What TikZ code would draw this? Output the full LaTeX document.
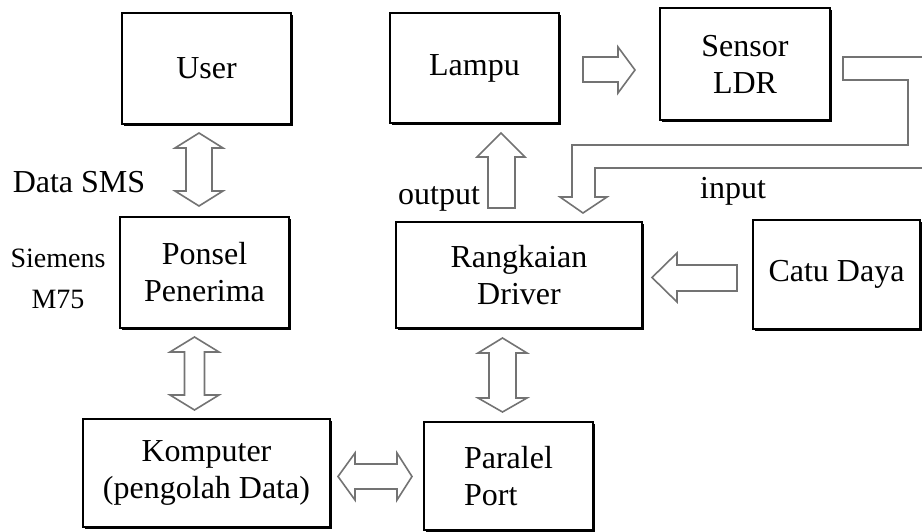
\documentclass[tikz,border=0pt]{standalone}
\usepackage{fontspec}
\setmainfont{Liberation Serif}
\usepackage{tikz}
\usetikzlibrary{shadows}
\definecolor{arrowgray}{RGB}{115,115,115}

\begin{document}
\begin{tikzpicture}[x=1pt, y=-1pt,
        box/.style={draw, line width=1.2pt, fill=white, align=center, inner sep=0pt,
            font=\fontsize{32}{37}\selectfont,
            drop shadow={shadow xshift=2pt, shadow yshift=-2pt, opacity=1, fill=black}},
        blk/.style={draw=arrowgray, line width=1.6pt, fill=white, line join=miter},
        lbl/.style={anchor=base, inner sep=0pt, font=\fontsize{32}{37}\selectfont}]
        \useasboundingbox (0,0) rectangle (922,532);

        \node[box, minimum width=169pt, minimum height=111pt] (user) at (206.5,68.5) {User};
        \node[box, minimum width=169pt, minimum height=110pt] (lampu) at (474.5,68) {Lampu};
        \node[box, minimum width=170pt, minimum height=112pt] (sensor) at (745,64) {Sensor\\LDR};
        \node[box, minimum width=169pt, minimum height=111pt] (ponsel) at (204.5,272.5) {Ponsel\\Penerima};
        \node[box, minimum width=246pt, minimum height=106pt] (driver) at (519,275) {Rangkaian\\Driver};
        \node[box, minimum width=167pt, minimum height=109pt] (catu) at (836.5,274.5) {Catu Daya};
        \node[box, minimum width=247pt, minimum height=108pt] (komputer) at (206.5,473) {Komputer\\(pengolah Data)};
        \node[box, minimum width=169pt, minimum height=108pt, align=left] (paralel) at (508.5,476) {Paralel\\Port};

        \coordinate (sms) at (199,133);
        \coordinate (usb) at (194.5,337);
        \coordinate (lpt) at (338,476.5);
        \coordinate (drv) at (502.5,338);
        \coordinate (out) at (501,133);
        \coordinate (lgt) at (635,70);
        \coordinate (pwr) at (652,277.5);

        \draw[blk] (sms) -- ++(24,15) -- ++(-11,0) -- ++(0,43) -- ++(11,0) -- ++(-24,15)
            -- ++(-24,-15) -- ++(11,0) -- ++(0,-43) -- ++(-11,0) -- cycle;
        \draw[blk] (usb) -- ++(24.5,15) -- ++(-14.5,0) -- ++(0,43) -- ++(14.5,0) -- ++(-24.5,15)
            -- ++(-24.5,-15) -- ++(14.5,0) -- ++(0,-43) -- ++(-14.5,0) -- cycle;
        \draw[blk] (drv) -- ++(24.5,15) -- ++(-11,0) -- ++(0,45) -- ++(11,0) -- ++(-24.5,14)
            -- ++(-24.5,-14) -- ++(11,0) -- ++(0,-45) -- ++(-11,0) -- cycle;
        \draw[blk] (lpt) -- ++(17,-23.5) -- ++(0,11) -- ++(42,0) -- ++(0,-11) -- ++(15,23.5)
            -- ++(-15,23.5) -- ++(0,-11) -- ++(-42,0) -- ++(0,11) -- cycle;
        \draw[blk] (out) -- ++(24,24) -- ++(-10,0) -- ++(0,51) -- ++(-27,0) -- ++(0,-51)
            -- ++(-11,0) -- cycle;
        \draw[blk] (lgt) -- ++(-17,23) -- ++(0,-11) -- ++(-35,0) -- ++(0,-25) -- ++(35,0)
            -- ++(0,-10) -- cycle;
        \draw[blk] (pwr) -- ++(25,-24.5) -- ++(0,12) -- ++(60,0) -- ++(0,26) -- ++(-60,0)
            -- ++(0,11) -- cycle;

        \draw[blk, fill=none] (922,57) -- (843,57) -- (843,80) -- (908,80) -- (908,145)
            -- (572,145) -- (572,197) -- (560,197) -- (583,213) -- (607,197) -- (595,197)
            -- (595,168) -- (922,168);

        \node[lbl] (smslbl) at (79,193) {Data SMS};
        \node[lbl, align=center, font=\fontsize{28}{41}\selectfont] (hp) at (58,308) {Siemens\\M75};
        \node[lbl] (outlbl) at (439,205) {output};
        \node[lbl] (inlbl) at (733,199) {input};
    \end{tikzpicture}
\end{document}
